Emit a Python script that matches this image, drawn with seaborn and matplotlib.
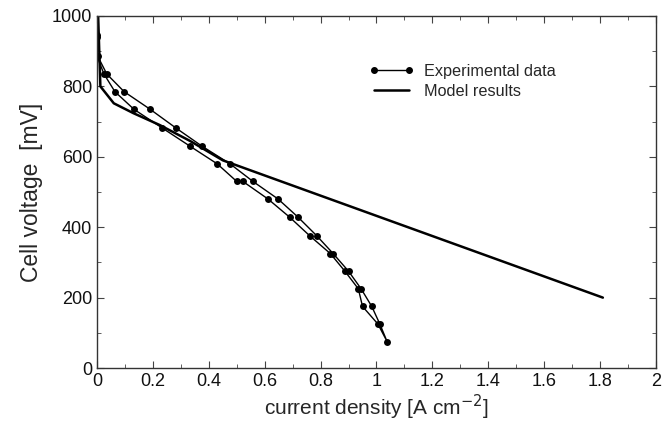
"""
Polarisation curve: experimental data (forward/backward scan) vs model results.
"""

import numpy as np
import pandas as pd
import seaborn as sns
import matplotlib.pyplot as plt
from matplotlib.lines import Line2D
from matplotlib.ticker import MultipleLocator, FormatStrFormatter

# Experimental data: down the right branch, then back up the left branch
exp_current = [
    0.0, 0.003, 0.035, 0.097, 0.19, 0.282, 0.376, 0.476, 0.558, 0.648,
    0.72, 0.787, 0.845, 0.90, 0.945, 0.983, 1.012, 1.038,
    1.005, 0.95, 0.935, 0.887, 0.835, 0.762, 0.69, 0.612, 0.522, 0.50,
    0.43, 0.333, 0.233, 0.132, 0.064, 0.025, 0.0, 0.0,
]
exp_voltage = [
    945, 885, 835, 785, 735, 682, 630, 580, 530, 480,
    428, 375, 325, 275, 225, 175, 125, 75,
    125, 175, 225, 275, 325, 375, 428, 480, 530, 530,
    580, 630, 682, 735, 785, 835, 885, 940,
]

# Model results
model_current = [0.004, 0.008, 0.012, 0.06, 0.13, 0.225, 0.333, 0.45, 1.81]
model_voltage = [1000, 900, 800, 752, 724, 690, 645, 590, 200]


def main():
    sns.set_style("ticks")
    plt.rcParams["font.family"] = ["Liberation Sans", "DejaVu Sans"]

    exp_df = pd.DataFrame({"current": exp_current, "voltage": exp_voltage})
    model_df = pd.DataFrame({"current": model_current, "voltage": model_voltage})

    fig = plt.figure(figsize=(6.71, 4.24), dpi=100)
    ax = fig.add_axes([0.1446, 0.132, 0.833, 0.8303])

    sns.lineplot(
        data=exp_df, x="current", y="voltage", sort=False, estimator=None,
        ax=ax, color="black", linewidth=1.0, marker="o", markersize=5,
        markeredgewidth=0,
    )
    sns.lineplot(
        data=model_df, x="current", y="voltage", sort=False, estimator=None,
        ax=ax, color="black", linewidth=1.8,
    )

    ax.set_xlim(0, 2)
    ax.set_ylim(0, 1000)
    ax.xaxis.set_major_locator(MultipleLocator(0.2))
    ax.xaxis.set_minor_locator(MultipleLocator(0.1))
    ax.yaxis.set_major_locator(MultipleLocator(200))
    ax.yaxis.set_minor_locator(MultipleLocator(100))
    ax.xaxis.set_major_formatter(FormatStrFormatter("%g"))
    ax.tick_params(which="both", direction="in", top=True, right=True,
                   labelsize=13, color="#444444", labelcolor="#111111")
    ax.tick_params(which="major", length=5)
    ax.tick_params(which="minor", length=3)
    for spine in ax.spines.values():
        spine.set_visible(True)
        spine.set_color("#333333")
        spine.set_linewidth(1.0)

    ax.set_xlabel(r"current density [A cm$^{-2}$]", fontsize=15, labelpad=2)
    ax.set_ylabel("Cell voltage  [mV]", fontsize=16.5, labelpad=6)

    handles = [
        Line2D([], [], color="black", lw=1.0, marker="o", markersize=4),
        Line2D([], [], color="black", lw=1.8),
    ]
    ax.legend(
        handles, ["Experimental data", "Model results"],
        loc="upper left", bbox_to_anchor=(0.46, 0.905), frameon=False,
        numpoints=2, fontsize=11.7, handlelength=2.8, labelspacing=0.3,
        handletextpad=0.6,
    )

    fig.savefig("out.png", dpi=100)
    plt.close(fig)


if __name__ == "__main__":
    main()
